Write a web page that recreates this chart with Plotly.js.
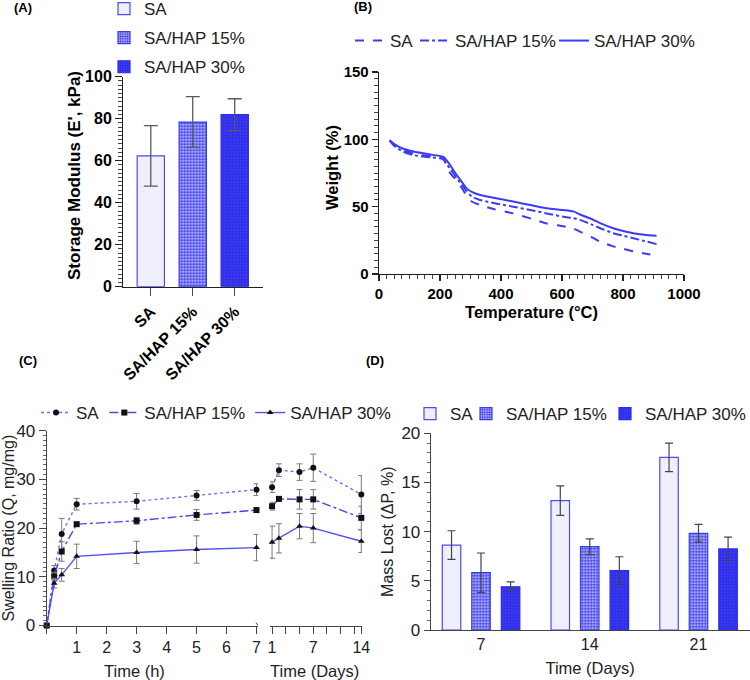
<!DOCTYPE html>
<html>
<head>
<meta charset="utf-8">
<script src="https://cdn.plot.ly/plotly-3.0.1.min.js"></script>
<style>
  html, body { margin: 0; padding: 0; background: #ffffff; }
  #chart { width: 750px; height: 680px; }
</style>
</head>
<body>
<div id="chart"></div>
<script>
// ---------- (A) storage modulus ----------
const groups = ['SA', 'SA/HAP 15%', 'SA/HAP 30%'];
const modulus = [62.3, 78.4, 81.9];
const modulusErr = [14.4, 12.1, 7.6];

// ---------- (B) thermogravimetric curves ----------
const tgaTemp = [35, 50, 80, 113, 150, 200, 211, 230, 244, 255, 276, 287, 304, 331, 380, 440, 500, 550, 604, 637, 659, 700, 725, 768, 800, 834, 870, 910];
const tgaSA = [99, 96, 92, 89.5, 88, 86.5, 85.5, 76, 72, 69, 62.4, 58, 53.8, 51.3, 48, 45, 41, 37.5, 35.5, 33.8, 31.5, 27, 24, 20.5, 18.8, 16.8, 15.3, 13.8];
const tgaHAP15 = [99, 95, 90.8, 88.3, 87, 85.9, 85, 79, 74.8, 71, 65, 61.5, 57.5, 55, 52.5, 50, 47.3, 45, 42.5, 41.5, 40.2, 36.5, 34, 30.3, 28.5, 26.6, 24.5, 22.2];
const tgaHAP30 = [99.3, 96.5, 93, 91, 89.5, 87.6, 87, 82, 77, 73.5, 67, 63.6, 61, 58.7, 56.5, 53.8, 51, 48.8, 47.5, 46.5, 44.2, 40.5, 37.8, 34, 32, 30.3, 29.2, 28.4];

// ---------- (C) swelling ratio ----------
const hours = [0, 0.25, 0.5, 1, 3, 5, 7];
const days = [1, 2, 5, 7, 14];
const hourTicks = [0, 1, 2, 3, 4, 5, 6, 7];
const hourTickText = ['', '1', '2', '3', '4', '5', '6', '7'];
const dayTicks = [1, 7, 14];
const swellSAh = [0, 11.3, 18.8, 24.9, 25.5, 26.7, 27.9];
const swellSAhErr = [0, 1.0, 3.2, 1.2, 1.6, 1.0, 1.2];
const swellSAd = [28.4, 31.9, 31.5, 32.4, 26.9];
const swellSAdErr = [1.1, 1.3, 1.7, 2.8, 3.9];
const swell15h = [0, 10.1, 15.2, 20.8, 21.5, 22.7, 23.7];
const swell15hErr = [0, 0.8, 2.0, 0.4, 0.7, 1.1, 0.5];
const swell15d = [24.5, 26.0, 25.9, 25.9, 22.1];
const swell15dErr = [0.8, 0.5, 2.0, 2.0, 2.4];
const swell30h = [0, 8.7, 10.4, 14.2, 15.0, 15.6, 16.0];
const swell30hErr = [0, 1.0, 1.3, 2.5, 2.3, 2.8, 2.7];
const swell30d = [17.1, 17.9, 20.4, 20.0, 17.3];
const swell30dErr = [3.3, 3.0, 2.6, 3.0, 2.3];

// ---------- (D) mass loss ----------
const lossDays = ['7', '14', '21'];
const lossSA = [8.64, 13.15, 17.56];
const lossSAErr = [1.45, 1.5, 1.45];
const loss15 = [5.83, 8.47, 9.83];
const loss15Err = [2.0, 0.8, 0.9];
const loss30 = [4.4, 6.03, 8.24];
const loss30Err = [0.5, 1.42, 1.2];

// ---------- helpers: pixel -> paper ----------
const W = 750, H = 680;
const px = v => v / W;
const py = v => 1 - v / H;

const FONT = 'Liberation Sans, Arial, Helvetica, sans-serif';
const BLUE = '#3c3cf5';

// bar fills shared by (A) and (D)
const fills = [
  { color: '#eeeefc', pattern: { shape: '+', fgcolor: '#dadaf7', bgcolor: '#f2f2fd', size: 4, solidity: 0.15 }, line: { color: '#4b4bf5', width: 1.2 } },
  { color: '#8a8af3', pattern: { shape: '.', fgcolor: '#3434ec', bgcolor: '#d4d4fb', size: 3, solidity: 0.55 }, line: { color: '#3b3bf0', width: 1.2 } },
  { color: '#3232ee', pattern: { shape: '.', fgcolor: '#2020e4', bgcolor: '#3d3df2', size: 3, solidity: 0.35 }, line: { color: '#2a2aee', width: 1.2 } }
];

const traces = [];

// (A)
groups.forEach((g, i) => {
  traces.push({
    type: 'bar', name: g, x: [g], y: [modulus[i]],
    xaxis: 'x', yaxis: 'y', legend: 'legend', legendgroup: 'mod' + i,
    width: 0.65, offset: -0.325,
    marker: fills[i],
    error_y: { type: 'data', array: [modulusErr[i]], color: '#5a5a5a', thickness: 1.3, width: 7 },
    hoverinfo: 'skip'
  });
});

// (B) — one small legend per curve so the entries sit compactly in a row
const tgaSeries = [
  { name: 'SA', y: tgaSA, dash: 'dash', legend: 'legend2' },
  { name: 'SA/HAP 15%', y: tgaHAP15, dash: 'dashdot', legend: 'legend5' },
  { name: 'SA/HAP 30%', y: tgaHAP30, dash: 'solid', legend: 'legend6' }
];
tgaSeries.forEach(s => {
  traces.push({
    type: 'scatter', mode: 'lines', name: s.name, x: tgaTemp, y: s.y,
    xaxis: 'x2', yaxis: 'y2', legend: s.legend,
    line: { color: BLUE, width: 2, dash: s.dash, shape: 'spline', smoothing: 0.6 },
    hoverinfo: 'skip'
  });
});

// (C)
const swellSeries = [
  { name: 'SA', h: swellSAh, he: swellSAhErr, d: swellSAd, de: swellSAdErr, dash: 'dot', color: '#6e6eff', symbol: 'circle', size: 6 },
  { name: 'SA/HAP 15%', h: swell15h, he: swell15hErr, d: swell15d, de: swell15dErr, dash: 'dashdot', color: '#4646ee', symbol: 'square', size: 6 },
  { name: 'SA/HAP 30%', h: swell30h, he: swell30hErr, d: swell30d, de: swell30dErr, dash: 'solid', color: '#5050fa', symbol: 'triangle-up', size: 6 }
];
swellSeries.forEach(s => {
  const common = {
    type: 'scatter', mode: 'lines+markers', yaxis: 'y3', legend: 'legend3', cliponaxis: false,
    line: { color: s.color, width: 1.4, dash: s.dash },
    marker: { symbol: s.symbol, size: s.size, color: '#111111' },
    hoverinfo: 'skip'
  };
  traces.push(Object.assign({}, common, {
    name: s.name, x: hours, y: s.h, xaxis: 'x3', legendgroup: s.name,
    error_y: { type: 'data', array: s.he, color: '#7a7a7a', thickness: 1, width: 3 }
  }));
  traces.push(Object.assign({}, common, {
    name: s.name, x: days, y: s.d, xaxis: 'x4', legendgroup: s.name, showlegend: false,
    error_y: { type: 'data', array: s.de, color: '#7a7a7a', thickness: 1, width: 3 }
  }));
});

// (D)
const lossSeries = [
  { name: 'SA', y: lossSA, e: lossSAErr, offset: -0.356, legend: 'legend4' },
  { name: 'SA/HAP 15%', y: loss15, e: loss15Err, offset: -0.085, legend: 'legend7' },
  { name: 'SA/HAP 30%', y: loss30, e: loss30Err, offset: 0.187, legend: 'legend8' }
];
lossSeries.forEach((s, i) => {
  traces.push({
    type: 'bar', name: s.name, x: lossDays, y: s.y,
    xaxis: 'x5', yaxis: 'y5', legend: s.legend,
    width: 0.17, offset: s.offset,
    marker: fills[i],
    error_y: { type: 'data', array: s.e, color: '#444444', thickness: 1.2, width: 4 },
    hoverinfo: 'skip'
  });
});

// ---------- axes ----------
const boldTick = { family: FONT, size: 15, color: '#000', weight: 'bold' };
const plainTick = { family: FONT, size: 16, color: '#222' };

// free-standing labels (panel letters and titles placed by pixel position)
function label(text, x, y, font, angle) {
  return {
    text: text, x: px(x), y: py(y), xref: 'paper', yref: 'paper',
    xanchor: 'center', yanchor: 'middle', showarrow: false,
    textangle: angle || 0, font: Object.assign({ family: FONT }, font)
  };
}
const panelFont = { size: 13, weight: 'bold', color: '#000' };

// a one-row legend whose text starts near pixel x
function rowLegend(x, y) {
  return {
    x: px(x - 40), y: py(y), xanchor: 'left', yanchor: 'top', orientation: 'h',
    font: { family: FONT, size: 17, color: '#222' }, bgcolor: 'rgba(0,0,0,0)'
  };
}

const layout = {
  width: W, height: H,
  margin: { l: 0, r: 0, t: 0, b: 0, autoexpand: false },
  paper_bgcolor: '#ffffff', plot_bgcolor: 'rgba(0,0,0,0)',
  font: { family: FONT, color: '#000' },
  showlegend: true,

  // (A)
  xaxis: {
    domain: [px(123.3), px(262.7)], anchor: 'y', type: 'category',
    range: [-0.655, 2.667], showgrid: false, zeroline: false,
    showline: true, linecolor: '#222', linewidth: 1.3,
    ticks: 'outside', ticklen: 8, tickwidth: 1.3, tickcolor: '#444',
    tickangle: -45, tickfont: Object.assign({}, boldTick, { size: 16 })
  },
  yaxis: {
    domain: [py(286.7), py(76.7)], anchor: 'x',
    range: [0, 100], dtick: 20, showgrid: false, zeroline: false,
    showline: true, linecolor: '#222', linewidth: 1.3,
    ticks: 'outside', ticklen: 7, tickwidth: 1.3, tickcolor: '#222',
    minor: { dtick: 2, ticks: 'outside', ticklen: 4, tickwidth: 1, tickcolor: '#444' },
    tickfont: Object.assign({}, boldTick, { size: 16 })
  },

  // (B)
  xaxis2: {
    domain: [px(379), px(684)], anchor: 'y2',
    range: [0, 1000], dtick: 200, showgrid: false, zeroline: false,
    showline: true, linecolor: '#222', linewidth: 1.3,
    ticks: 'outside', ticklen: 6, tickwidth: 1.3, tickcolor: '#222',
    minor: { dtick: 25, ticks: 'outside', ticklen: 4, tickwidth: 1, tickcolor: '#444' },
    tickfont: boldTick,
    title: { text: 'Temperature (°C)', font: { family: FONT, size: 16.5, weight: 'bold', color: '#000' }, standoff: 5 }
  },
  yaxis2: {
    domain: [py(274), py(72)], anchor: 'x2',
    range: [0, 150], dtick: 50, showgrid: false, zeroline: false,
    showline: true, linecolor: '#222', linewidth: 1.3,
    ticks: 'outside', ticklen: 6, tickwidth: 1.3, tickcolor: '#222',
    minor: { dtick: 5, ticks: 'outside', ticklen: 4, tickwidth: 1, tickcolor: '#444' },
    tickfont: boldTick
  },

  // (C) hours segment
  xaxis3: {
    domain: [px(46.7), px(258)], anchor: 'y3',
    range: [0, 7.05], tickvals: hourTicks, ticktext: hourTickText,
    showgrid: false, zeroline: false,
    showline: true, linecolor: '#444', linewidth: 1,
    ticks: 'outside', ticklen: 7, tickwidth: 1, tickcolor: '#444',
    tickfont: plainTick
  },
  // (C) days segment
  xaxis4: {
    domain: [px(270), px(362)], anchor: 'y3',
    range: [0.7, 14.1], tickvals: dayTicks,
    showgrid: false, zeroline: false,
    showline: true, linecolor: '#444', linewidth: 1,
    ticks: 'outside', ticklen: 7, tickwidth: 1, tickcolor: '#444',
    minor: { tick0: 1, dtick: 2, ticks: 'outside', ticklen: 7, tickwidth: 1, tickcolor: '#444' },
    tickfont: plainTick
  },
  yaxis3: {
    domain: [py(625.5), py(430.7)], anchor: 'x3',
    range: [0, 40], dtick: 10, showgrid: false, zeroline: false,
    showline: true, linecolor: '#444', linewidth: 1,
    ticks: 'outside', ticklen: 7, tickwidth: 1, tickcolor: '#444',
    minor: { dtick: 1, ticks: 'outside', ticklen: 3, tickwidth: 1, tickcolor: '#666' },
    tickfont: Object.assign({}, plainTick, { size: 17 }),
    title: { text: 'Swelling Ratio (Q, mg/mg)', font: { family: FONT, size: 16, color: '#222' }, standoff: 4 }
  },

  // (D)
  xaxis5: {
    domain: [px(430.7), px(749.5)], anchor: 'y5', type: 'category',
    range: [-0.4625, 2.469], showgrid: false, zeroline: false,
    showline: true, linecolor: '#444', linewidth: 1,
    ticks: '', tickfont: plainTick,
    title: { text: 'Time (Days)', font: { family: FONT, size: 16.5, color: '#222' }, standoff: 10 }
  },
  yaxis5: {
    domain: [py(630), py(433.3)], anchor: 'x5',
    range: [0, 20], dtick: 5, showgrid: false, zeroline: false,
    showline: true, linecolor: '#444', linewidth: 1,
    ticks: 'outside', ticklen: 6, tickwidth: 1, tickcolor: '#444',
    minor: { dtick: 1, ticks: 'outside', ticklen: 3, tickwidth: 1, tickcolor: '#666' },
    tickfont: Object.assign({}, plainTick, { size: 17 }),
    title: { text: 'Mass Lost (ΔP, %)', font: { family: FONT, size: 16, color: '#222' }, standoff: 3 }
  },

  // legends
  legend: {
    x: px(104), y: py(-9), xanchor: 'left', yanchor: 'top', orientation: 'v',
    font: { family: FONT, size: 17, color: '#222' }, bgcolor: 'rgba(0,0,0,0)', tracegroupgap: 4
  },
  legend2: rowLegend(390, 23),
  legend5: rowLegend(455, 23),
  legend6: rowLegend(594, 23),
  legend3: {
    x: px(36), y: py(395), xanchor: 'left', yanchor: 'top', orientation: 'h',
    font: { family: FONT, size: 17, color: '#222' }, bgcolor: 'rgba(0,0,0,0)'
  },
  legend4: rowLegend(450, 396),
  legend7: rowLegend(506, 396),
  legend8: rowLegend(645, 396),

  annotations: [
    label('(A)', 23, 8, panelFont),
    label('(B)', 363, 7, panelFont),
    label('(C)', 28, 360, panelFont),
    label('(D)', 375, 360, panelFont),
    label("Storage Modulus (E', kPa)", 75, 176, { size: 17, weight: 'bold', color: '#000' }, -90),
    label('Weight (%)', 332, 168, { size: 16.5, weight: 'bold', color: '#000' }, -90),
    label('Time (h)', 134, 671, { size: 16.5, color: '#222' }),
    label('Time (Days)', 314, 671, { size: 16.5, color: '#222' })
  ],

  // axis-break slashes between the hour and day segments
  shapes: [
    { type: 'line', xref: 'x3', yref: 'y3', xsizemode: 'pixel', ysizemode: 'pixel', xanchor: 7.05, yanchor: 0, x0: -2, x1: 2, y0: 3, y1: -3, line: { color: '#444', width: 1 } },
    { type: 'line', xref: 'x4', yref: 'y3', xsizemode: 'pixel', ysizemode: 'pixel', xanchor: 0.7, yanchor: 0, x0: -2, x1: 2, y0: 3, y1: -3, line: { color: '#444', width: 1 } }
  ]
};

Plotly.newPlot('chart', traces, layout, { staticPlot: true, displayModeBar: false });
</script>
</body>
</html>
